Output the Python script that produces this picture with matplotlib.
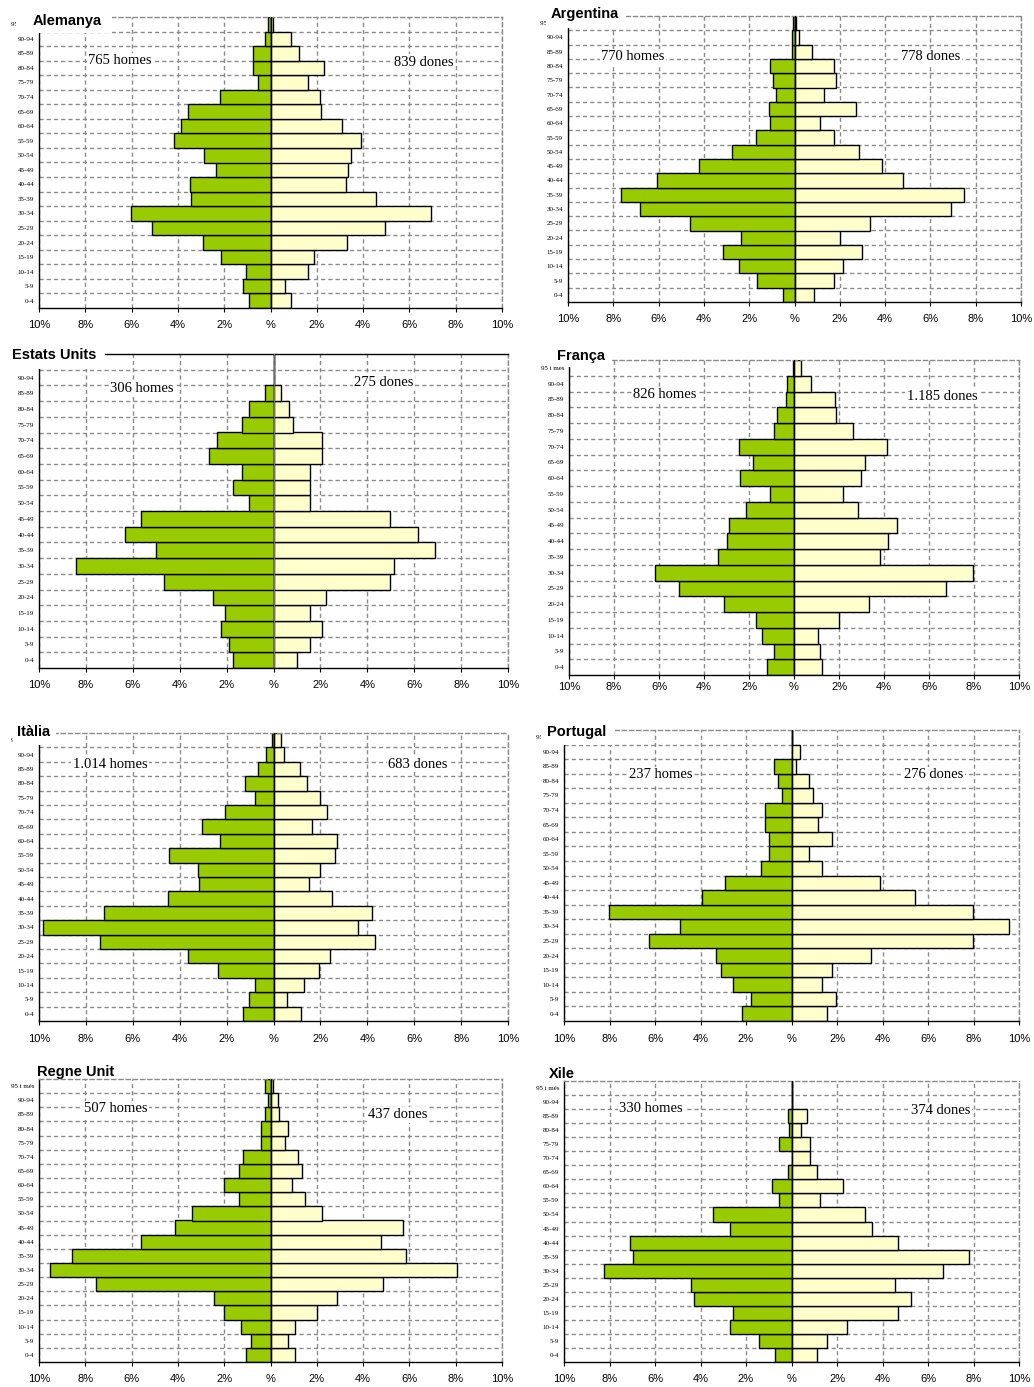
import matplotlib
matplotlib.use('Agg')
import matplotlib.pyplot as plt
from matplotlib.patches import Rectangle

# --- Constants ---
AMPLE, ALT = 1034, 1387          # mida de la figura en píxels
VERD = '#99cc00'                  # homes
CREMA = '#ffffcc'                 # dones
GRIS = '#8a8a8a'                  # reixeta
DISCONTINUA = (0, (3, 2.2))

# --- Dades (de 0-4 fins a 95 i més) ---
GRUPS = ['0-4', '5-9', '10-14', '15-19', '20-24', '25-29', '30-34', '35-39',
         '40-44', '45-49', '50-54', '55-59', '60-64', '65-69', '70-74',
         '75-79', '80-84', '85-89', '90-94', '95 i més']
ETIQUETES_X = ['10%', '8%', '6%', '4%', '2%', '%', '2%', '4%', '6%', '8%', '10%']

alemanya_homes = [0.92, 1.18, 1.05, 2.12, 2.93, 5.12, 6.04, 3.42, 3.49, 2.36,
                  2.86, 4.18, 3.86, 3.55, 2.19, 0.56, 0.75, 0.75, 0.23, 0.10]
alemanya_dones = [0.87, 0.62, 1.62, 1.86, 3.32, 4.93, 6.92, 4.56, 3.24, 3.36,
                  3.48, 3.92, 3.10, 2.19, 2.13, 1.62, 2.31, 1.24, 0.87, 0.10]

argentina_homes = [0.50, 1.67, 2.43, 3.15, 2.37, 4.63, 6.84, 7.66, 6.06, 4.23,
                   2.76, 1.72, 1.08, 1.13, 0.83, 0.96, 1.08, 0.09, 0.12, 0.05]
argentina_dones = [0.85, 1.74, 2.12, 2.96, 2.00, 3.32, 6.91, 7.49, 4.79, 3.88,
                   2.84, 1.74, 1.11, 2.73, 1.30, 1.83, 1.74, 0.78, 0.21, 0.05]

eua_homes = [1.72, 1.89, 2.23, 2.06, 2.57, 4.65, 8.42, 4.99, 6.35, 5.66,
             1.04, 1.72, 1.36, 2.76, 2.42, 1.36, 1.04, 0.36, 0.0, 0.0]
eua_dones = [1.02, 1.54, 2.05, 1.54, 2.22, 4.97, 5.15, 6.87, 6.18, 4.97,
             1.54, 1.54, 1.54, 2.05, 2.05, 0.85, 0.68, 0.34, 0.0, 0.0]

franca_homes = [1.20, 0.90, 1.44, 1.69, 3.13, 5.13, 6.17, 3.38, 2.99, 2.89,
                2.14, 1.05, 2.39, 1.84, 2.45, 0.90, 0.74, 0.36, 0.30, 0.06]
franca_dones = [1.23, 1.17, 1.08, 2.02, 3.34, 6.75, 7.95, 3.83, 4.17, 4.57,
                2.86, 2.18, 2.97, 3.17, 4.12, 2.60, 1.88, 1.84, 0.74, 0.30]

italia_homes = [1.28, 1.04, 0.81, 2.36, 3.64, 7.41, 9.84, 7.22, 4.52, 3.17,
                3.23, 4.45, 2.27, 3.04, 2.05, 0.81, 1.21, 0.68, 0.33, 0.06]
italia_dones = [1.18, 0.58, 1.30, 1.94, 2.43, 4.31, 3.59, 4.18, 2.51, 1.52,
                2.00, 2.64, 2.72, 1.65, 2.29, 2.00, 1.41, 1.12, 0.44, 0.33]

portugal_homes = [2.16, 1.76, 2.55, 3.12, 3.31, 6.25, 4.88, 8.02, 3.92, 2.93,
                  1.36, 0.97, 0.97, 1.17, 1.17, 0.40, 0.59, 0.79, 0.0, 0.0]
portugal_dones = [1.54, 1.94, 1.36, 1.76, 3.48, 7.96, 9.55, 7.96, 5.44, 3.89,
                  1.36, 0.76, 1.76, 1.17, 1.36, 0.95, 0.76, 0.18, 0.38, 0.0]

regne_unit_homes = [1.05, 0.85, 1.28, 2.00, 2.44, 7.53, 9.54, 8.59, 5.61, 4.14,
                    3.39, 1.37, 2.00, 1.37, 1.17, 0.42, 0.42, 0.22, 0.10, 0.22]
regne_unit_dones = [1.07, 0.74, 1.07, 2.02, 2.86, 4.87, 8.07, 5.85, 4.77, 5.74,
                    2.22, 1.49, 0.95, 1.38, 1.17, 0.63, 0.74, 0.35, 0.32, 0.12]

xile_homes = [0.72, 1.43, 2.69, 2.56, 4.29, 4.41, 8.26, 6.95, 7.11, 2.69,
              3.43, 0.57, 0.85, 0.15, 0.0, 0.57, 0.12, 0.15, 0.0, 0.0]
xile_dones = [1.11, 1.55, 2.42, 4.67, 5.26, 4.54, 6.68, 7.80, 4.67, 3.54,
              3.25, 1.26, 2.25, 1.11, 0.83, 0.83, 0.42, 0.69, 0.0, 0.0]

# --- Disposició de cada panell (píxels) ---
# nom, homes, dones, text homes, text dones, eixos (x0, y0, x1, y1),
# títol (x, y), màscara (x0, y0, x1, y1), pos. homes, pos. dones, pad eix x
PANELLS = [
    ('Alemanya', alemanya_homes, alemanya_dones, '765 homes', '839 dones',
     (39, 17, 502, 308), (33, 21), (16, 5, 112, 33), (120, 61), (424, 62), 6),
    ('Argentina', argentina_homes, argentina_dones, '770 homes', '778 dones',
     (568, 16, 1021, 302), (551, 14), (546, 2, 626, 28), (633, 57), (931, 57), 6),
    ('Estats Units', eua_homes, eua_dones, '306 homes', '275 dones',
     (39, 354, 508, 668), (12, 355), (0, 340, 105, 369), (142, 389), (384, 383), 6),
    ('França', franca_homes, franca_dones, '826 homes', '1.185 dones',
     (569, 360, 1019, 675), (557, 356), (555, 343, 612, 367), (665, 395), (942, 396), 2),
    ('Itàlia', italia_homes, italia_dones, '1.014 homes', '683 dones',
     (39, 733, 508, 1021), (17, 732), (13, 718, 56, 745), (110, 764), (418, 764), 6),
    ('Portugal', portugal_homes, portugal_dones, '237 homes', '276 dones',
     (564, 730, 1019, 1021), (547, 732), (541, 718, 615, 745), (661, 775), (934, 775), 6),
    ('Regne Unit', regne_unit_homes, regne_unit_dones, '507 homes', '437 dones',
     (39, 1079, 502, 1362), (37, 1072), (35, 1058, 122, 1078), (116, 1109), (398, 1115), 6),
    ('Xile', xile_homes, xile_dones, '330 homes', '374 dones',
     (564, 1081, 1019, 1362), (549, 1074), (547, 1058, 581, 1080), (651, 1109), (941, 1111), 6),
]


def caixa_a_figura(x0, y0, x1, y1):
    """Converteix una caixa en píxels (origen a dalt) a coordenades de figura."""
    return [x0 / AMPLE, 1 - y1 / ALT, (x1 - x0) / AMPLE, (y1 - y0) / ALT]


def punt_a_figura(x, y):
    return x / AMPLE, 1 - y / ALT


def dibuixa_piramide(fig, caixa, homes, dones, nom, pad_x):
    """Dibuixa una piràmide de població amb homes a l'esquerra i dones a la dreta."""
    ax = fig.add_axes(caixa_a_figura(*caixa))
    y = list(range(len(homes)))

    ax.barh(y, [-h for h in homes], height=1, color=VERD, edgecolor='black',
            linewidth=1.0, zorder=2)
    ax.barh(y, dones, height=1, color=CREMA, edgecolor='black',
            linewidth=1.0, zorder=2)
    color_eix = '#707070' if nom == 'Estats Units' else 'black'
    ax.axvline(0, color=color_eix, linewidth=0.9, zorder=3)

    ax.set_xlim(-10, 10)
    ax.set_ylim(-0.5, len(homes) - 0.5)

    ax.set_xticks(range(-10, 11, 2))
    ax.set_xticklabels(ETIQUETES_X, fontfamily='Liberation Sans', fontsize=8)
    ax.set_yticks(y)
    ax.set_yticklabels(GRUPS, fontfamily='Liberation Serif', fontsize=5)
    ax.set_yticks([i + 0.5 for i in y[:-1]], minor=True)
    ax.tick_params(axis='y', which='both', length=0, pad=3.5)
    ax.tick_params(axis='x', length=3, width=0.8, pad=pad_x)

    ax.grid(True, axis='x', which='major', color=GRIS, linestyle=DISCONTINUA, linewidth=1.0)
    ax.grid(True, axis='y', which='minor', color=GRIS, linestyle=DISCONTINUA, linewidth=1.0)
    ax.set_axisbelow(True)

    for costat in ('left', 'bottom'):
        ax.spines[costat].set_linewidth(1.0)
        ax.spines[costat].set_color('black')
    for costat in ('top', 'right'):
        ax.spines[costat].set_color(GRIS)
        ax.spines[costat].set_linestyle(DISCONTINUA)
        ax.spines[costat].set_linewidth(1.0)
    if nom == 'Estats Units':
        ax.spines['top'].set_color('black')
        ax.spines['top'].set_linestyle('-')
    return ax


# --- Execució principal ---
if __name__ == "__main__":
    fig = plt.figure(figsize=(AMPLE / 100, ALT / 100), dpi=100)

    for (nom, homes, dones, txt_h, txt_d, caixa, pos_titol, mascara,
         pos_h, pos_d, pad_x) in PANELLS:
        dibuixa_piramide(fig, caixa, homes, dones, nom, pad_x)

        # la caixa blanca del títol tapa el cantó superior esquerre
        x0, y0, x1, y1 = mascara
        fx, fy = punt_a_figura(x0, y1)
        fig.add_artist(Rectangle((fx, fy), (x1 - x0) / AMPLE, (y1 - y0) / ALT,
                                 transform=fig.transFigure, facecolor='white',
                                 edgecolor='none', zorder=5))
        fig.text(*punt_a_figura(*pos_titol), nom, ha='left', va='center',
                 fontfamily='Liberation Sans', fontweight='bold', fontsize=10.5, zorder=6)

        caixa_text = dict(facecolor='white', edgecolor='none', pad=1)
        fig.text(*punt_a_figura(*pos_h), txt_h, ha='center', va='center',
                 fontfamily='Liberation Serif', fontsize=10.5, bbox=caixa_text, zorder=6)
        fig.text(*punt_a_figura(*pos_d), txt_d, ha='center', va='center',
                 fontfamily='Liberation Serif', fontsize=10.5, bbox=caixa_text, zorder=6)

    fig.savefig('out.png', dpi=100)
